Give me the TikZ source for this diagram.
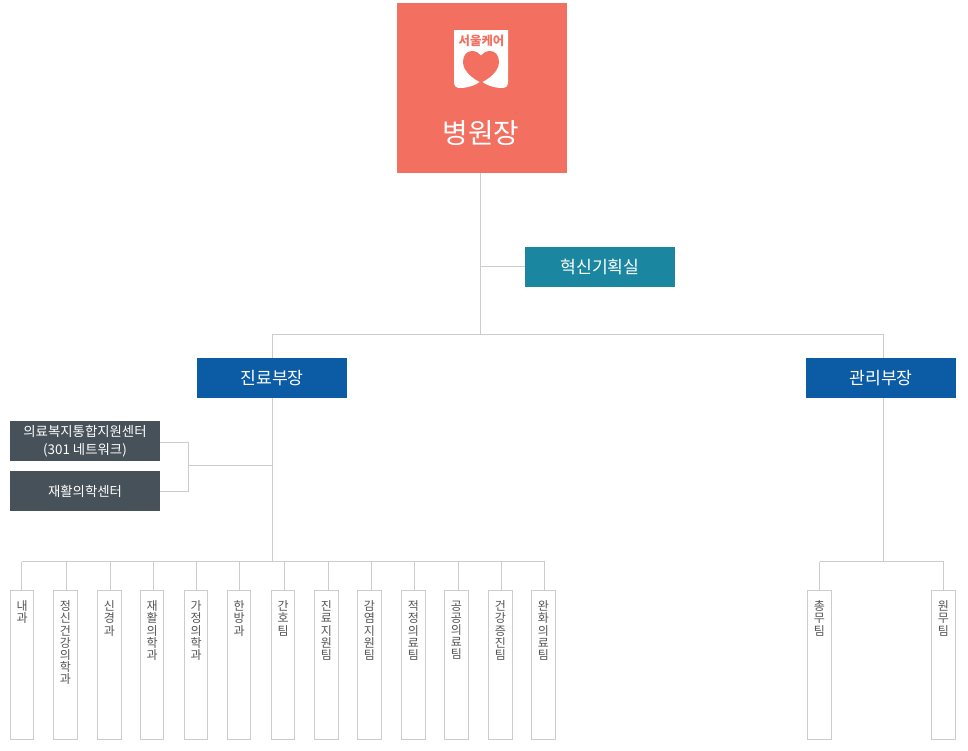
\documentclass[tikz,border=0pt]{standalone}
\usepackage{fontspec}
\setmainfont{Noto Sans CJK KR}
\usepackage{xcolor}
\usepackage{tikz}
\usetikzlibrary{positioning,calc}
\definecolor{coral}{RGB}{243,112,96}
\definecolor{teal}{RGB}{27,134,159}
\definecolor{navy}{RGB}{11,92,165}
\definecolor{slate}{RGB}{71,81,89}
\definecolor{wire}{RGB}{204,204,204}
\definecolor{label}{RGB}{85,85,85}
\newcommand{\fsize}[1]{\fontsize{#1}{#1}\selectfont}

\begin{document}
\begin{tikzpicture}[x=1pt,y=-1pt,
  link/.style={draw=wire,line width=1pt},
  head/.style={fill=#1,text=white,minimum width=150pt,minimum height=40pt,
               inner sep=0pt,outer sep=0pt,font=\fsize{17.2}},
  side/.style={fill=slate,text=white,minimum width=150pt,minimum height=40pt,
               inner sep=0pt,outer sep=0pt,align=center,font=\fontsize{13.4}{18}\selectfont},
  dept/.style={draw=wire,line width=1pt,fill=white,minimum width=23.5pt,minimum height=149pt,
               inner sep=0pt,outer sep=0pt},
  deptname/.style={text=label,align=center,inner sep=0pt,font=\fontsize{12}{12.2}\selectfont}]
\useasboundingbox (0,0) rectangle (968,750);
% director
\node[fill=coral,minimum size=170pt,inner sep=0pt,outer sep=0pt] (director) at (482,88) {};
\fill[white] (454,30) -- (508,30) -- (508,82) .. controls (508,86) and (506,88) .. (502,88)
  .. controls (494,88) and (486,85) .. (481,81) .. controls (476,85) and (468,88) .. (460,88)
  .. controls (456,88) and (454,86) .. (454,82) -- cycle;
\fill[coral] (481,82.5) .. controls (473,79) and (463,71) .. (463,62) .. controls (463,55) and (467,51) .. (472,51)
  .. controls (476,51) and (479,53) .. (481,55.5) .. controls (483,53) and (486,51) .. (490,51)
  .. controls (495,51) and (499,55) .. (499,62) .. controls (499,71) and (489,79) .. (481,82.5) -- cycle;
\node[text=coral,inner sep=0pt,font=\fsize{12.4}\bfseries] (logotext) at (481.5,40.5) {서울케어};
\node[text=white,inner sep=0pt,font=\fsize{27.8}] (directortext) at (481,133) {병원장};
% planning office
\node[head=teal] (office) at (600,267) {혁신기획실};
\coordinate (officejoin) at (480,266.5);
\coordinate (topjoin) at (480,334);
\draw[link] (480,173) -- (topjoin);
\draw[link] (officejoin) -- (office.west |- officejoin);
% deputy heads
\node[head=navy] (medical) at (272,378) {진료부장};
\node[head=navy] (admin) at (881,378) {관리부장};
\coordinate (medbus) at (272,561.5);
\coordinate (admbus) at (883,561.5);
\draw[link] (272,334) -- (883,334);
\draw[link] (272,334) -- (medical.north);
\draw[link] (medical.south) -- (medbus);
\draw[link] (883,334) -- (admbus |- admin.north);
\draw[link] (admbus |- admin.south) -- (admbus);
% centres
\node[side] (welfare) at (85,441) {의료복지통합지원센터\\(301 네트워크)};
\node[side] (rehab) at (85,491) {재활의학센터};
\coordinate (sidejoin) at (188.5,465.5);
\draw[link] (welfare.east |- 0,442.5) -- (188.5,442.5) -- (188.5,491) -- (rehab.east);
\draw[link] (sidejoin) -- (sidejoin -| medbus);
% departments
\draw[link] (21.5,561.5) -- (544.5,561.5);
\foreach \i/\cx/\lx/\txt in {
  1/22.2/21.5/{내\\과},
  2/65.3/66.3/{정\\신\\건\\강\\의\\학\\과},
  3/109.3/110.3/{신\\경\\과},
  4/152.2/153.4/{재\\활\\의\\학\\과},
  5/196.2/196.4/{가\\정\\의\\학\\과},
  6/239.2/239.4/{한\\방\\과},
  7/283.2/284.4/{간\\호\\팀},
  8/326.3/328.4/{진\\료\\지\\원\\팀},
  9/369.3/371.4/{감\\염\\지\\원\\팀},
  10/413.3/414.4/{적\\정\\의\\료\\팀},
  11/456.3/458.4/{공\\공\\의\\료\\팀},
  12/500.3/501.4/{건\\강\\증\\진\\팀},
  13/543.3/544.4/{완\\화\\의\\료\\팀}}{
  \node[dept] (dept\i) at (\cx,664.5) {};
  \node[deptname,anchor=north] (deptname\i) at (\cx,600.5) {\txt};
  \coordinate (tap\i) at (\lx,561.5);
  \draw[link] (tap\i) -- (tap\i |- dept\i.north);
}
% admin teams
\draw[link] (819.5,561.5) -- (943.5,561.5);
\foreach \i/\cx/\lx/\txt in {14/819.3/819.5/{총\\무\\팀},15/943.3/943.5/{원\\무\\팀}}{
  \node[dept] (dept\i) at (\cx,664.5) {};
  \node[deptname,anchor=north] (deptname\i) at (\cx,600.5) {\txt};
  \coordinate (tap\i) at (\lx,561.5);
  \draw[link] (tap\i) -- (tap\i |- dept\i.north);
}
\end{tikzpicture}
\end{document}
